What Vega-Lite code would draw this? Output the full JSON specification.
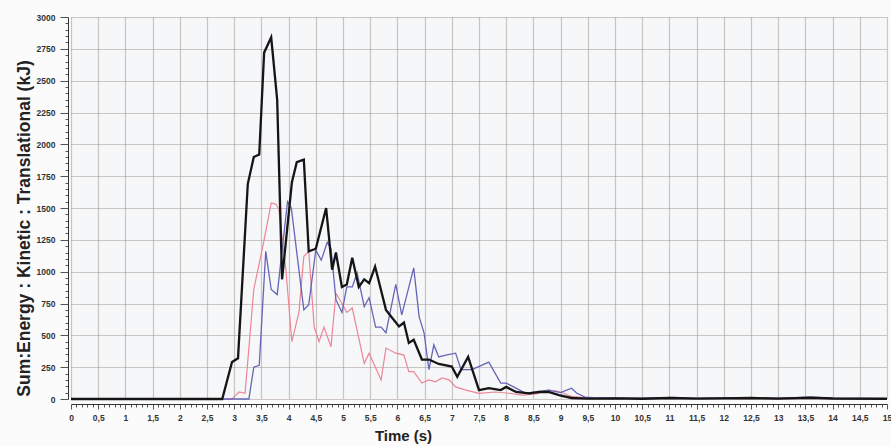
{
  "$schema": "https://vega.github.io/schema/vega-lite/v6.json",
  "autosize": "none",
  "width": 816,
  "height": 382,
  "padding": {"left": 71, "top": 17, "right": 4, "bottom": 47},
  "background": "#fbfbfc",
  "config": {
    "view": {"stroke": null, "fill": "#f6f7f9"},
    "axis": {
      "labelFont": "Liberation Sans",
      "labelFontWeight": "bold",
      "labelFontSize": 8.5,
      "labelColor": "#333333",
      "titleFont": "Liberation Sans",
      "titleFontWeight": "bold",
      "titleFontSize": 15,
      "titleColor": "#222222",
      "domainColor": "#333333",
      "tickColor": "#555555",
      "gridColor": "#9e918c",
      "gridDash": [1, 1],
      "gridWidth": 1.2
    }
  },
  "datasets": {
    "energy": [
      {"t": 0, "v": 0, "s": "black"}, {"t": 2.78, "v": 0, "s": "black"}, {"t": 2.96, "v": 290, "s": "black"}, {"t": 3.07, "v": 320, "s": "black"},
      {"t": 3.25, "v": 1690, "s": "black"}, {"t": 3.36, "v": 1900, "s": "black"}, {"t": 3.46, "v": 1920, "s": "black"}, {"t": 3.55, "v": 2720, "s": "black"},
      {"t": 3.68, "v": 2840, "s": "black"}, {"t": 3.79, "v": 2350, "s": "black"}, {"t": 3.88, "v": 940, "s": "black"}, {"t": 4.06, "v": 1700, "s": "black"},
      {"t": 4.15, "v": 1860, "s": "black"}, {"t": 4.28, "v": 1880, "s": "black"}, {"t": 4.37, "v": 1160, "s": "black"}, {"t": 4.5, "v": 1180, "s": "black"},
      {"t": 4.69, "v": 1500, "s": "black"}, {"t": 4.8, "v": 1015, "s": "black"}, {"t": 4.87, "v": 1150, "s": "black"}, {"t": 4.98, "v": 880, "s": "black"},
      {"t": 5.07, "v": 900, "s": "black"}, {"t": 5.17, "v": 1110, "s": "black"}, {"t": 5.29, "v": 880, "s": "black"}, {"t": 5.39, "v": 940, "s": "black"},
      {"t": 5.48, "v": 910, "s": "black"}, {"t": 5.59, "v": 1040, "s": "black"}, {"t": 5.79, "v": 700, "s": "black"}, {"t": 5.88, "v": 650, "s": "black"},
      {"t": 6.03, "v": 570, "s": "black"}, {"t": 6.12, "v": 600, "s": "black"}, {"t": 6.21, "v": 440, "s": "black"}, {"t": 6.3, "v": 465, "s": "black"},
      {"t": 6.45, "v": 310, "s": "black"}, {"t": 6.58, "v": 310, "s": "black"}, {"t": 6.76, "v": 275, "s": "black"}, {"t": 7.0, "v": 255, "s": "black"},
      {"t": 7.1, "v": 175, "s": "black"}, {"t": 7.3, "v": 330, "s": "black"}, {"t": 7.5, "v": 70, "s": "black"}, {"t": 7.68, "v": 85, "s": "black"},
      {"t": 7.9, "v": 70, "s": "black"}, {"t": 8.0, "v": 95, "s": "black"}, {"t": 8.18, "v": 55, "s": "black"}, {"t": 8.42, "v": 45, "s": "black"},
      {"t": 8.6, "v": 55, "s": "black"}, {"t": 8.78, "v": 55, "s": "black"}, {"t": 8.97, "v": 30, "s": "black"}, {"t": 9.2, "v": 8, "s": "black"},
      {"t": 9.5, "v": 3, "s": "black"}, {"t": 10, "v": 5, "s": "black"}, {"t": 10.5, "v": 2, "s": "black"}, {"t": 11, "v": 8, "s": "black"},
      {"t": 11.5, "v": 3, "s": "black"}, {"t": 12, "v": 5, "s": "black"}, {"t": 12.5, "v": 8, "s": "black"}, {"t": 13, "v": 3, "s": "black"},
      {"t": 13.6, "v": 10, "s": "black"}, {"t": 14, "v": 4, "s": "black"}, {"t": 15, "v": 2, "s": "black"},

      {"t": 0, "v": 0, "s": "blue"}, {"t": 3.27, "v": 0, "s": "blue"}, {"t": 3.36, "v": 250, "s": "blue"}, {"t": 3.46, "v": 265, "s": "blue"},
      {"t": 3.58, "v": 1160, "s": "blue"}, {"t": 3.68, "v": 860, "s": "blue"}, {"t": 3.79, "v": 820, "s": "blue"}, {"t": 3.98, "v": 1550, "s": "blue"},
      {"t": 4.05, "v": 1500, "s": "blue"}, {"t": 4.28, "v": 700, "s": "blue"}, {"t": 4.37, "v": 740, "s": "blue"}, {"t": 4.5, "v": 1170, "s": "blue"},
      {"t": 4.6, "v": 1090, "s": "blue"}, {"t": 4.71, "v": 1230, "s": "blue"}, {"t": 4.78, "v": 1180, "s": "blue"}, {"t": 4.87, "v": 780, "s": "blue"},
      {"t": 4.98, "v": 680, "s": "blue"}, {"t": 5.07, "v": 880, "s": "blue"}, {"t": 5.17, "v": 880, "s": "blue"}, {"t": 5.26, "v": 990, "s": "blue"},
      {"t": 5.39, "v": 725, "s": "blue"}, {"t": 5.48, "v": 795, "s": "blue"}, {"t": 5.6, "v": 565, "s": "blue"}, {"t": 5.7, "v": 565, "s": "blue"},
      {"t": 5.79, "v": 520, "s": "blue"}, {"t": 5.97, "v": 900, "s": "blue"}, {"t": 6.08, "v": 660, "s": "blue"}, {"t": 6.3, "v": 1030, "s": "blue"},
      {"t": 6.4, "v": 645, "s": "blue"}, {"t": 6.49, "v": 520, "s": "blue"}, {"t": 6.58, "v": 230, "s": "blue"}, {"t": 6.67, "v": 425, "s": "blue"},
      {"t": 6.76, "v": 330, "s": "blue"}, {"t": 6.89, "v": 345, "s": "blue"}, {"t": 7.07, "v": 360, "s": "blue"}, {"t": 7.17, "v": 230, "s": "blue"},
      {"t": 7.37, "v": 230, "s": "blue"}, {"t": 7.68, "v": 290, "s": "blue"}, {"t": 7.9, "v": 125, "s": "blue"}, {"t": 8.0, "v": 125, "s": "blue"},
      {"t": 8.18, "v": 85, "s": "blue"}, {"t": 8.36, "v": 45, "s": "blue"}, {"t": 8.55, "v": 55, "s": "blue"}, {"t": 8.78, "v": 70, "s": "blue"},
      {"t": 9.0, "v": 50, "s": "blue"}, {"t": 9.2, "v": 85, "s": "blue"}, {"t": 9.3, "v": 45, "s": "blue"}, {"t": 9.45, "v": 15, "s": "blue"},
      {"t": 9.6, "v": 10, "s": "blue"}, {"t": 10, "v": 8, "s": "blue"}, {"t": 10.5, "v": 5, "s": "blue"}, {"t": 11.1, "v": 12, "s": "blue"},
      {"t": 11.5, "v": 5, "s": "blue"}, {"t": 12.1, "v": 10, "s": "blue"}, {"t": 12.5, "v": 6, "s": "blue"}, {"t": 13.0, "v": 4, "s": "blue"},
      {"t": 13.6, "v": 15, "s": "blue"}, {"t": 14.0, "v": 6, "s": "blue"}, {"t": 14.5, "v": 4, "s": "blue"}, {"t": 15, "v": 3, "s": "blue"},

      {"t": 0, "v": 0, "s": "red"}, {"t": 2.96, "v": 0, "s": "red"}, {"t": 3.03, "v": 30, "s": "red"}, {"t": 3.09, "v": 55, "s": "red"},
      {"t": 3.2, "v": 45, "s": "red"}, {"t": 3.36, "v": 860, "s": "red"}, {"t": 3.55, "v": 1250, "s": "red"}, {"t": 3.68, "v": 1540, "s": "red"},
      {"t": 3.77, "v": 1530, "s": "red"}, {"t": 3.82, "v": 1490, "s": "red"}, {"t": 3.95, "v": 1015, "s": "red"}, {"t": 4.06, "v": 450, "s": "red"},
      {"t": 4.19, "v": 680, "s": "red"}, {"t": 4.28, "v": 1120, "s": "red"}, {"t": 4.37, "v": 1160, "s": "red"}, {"t": 4.47, "v": 565, "s": "red"},
      {"t": 4.56, "v": 450, "s": "red"}, {"t": 4.65, "v": 565, "s": "red"}, {"t": 4.78, "v": 410, "s": "red"}, {"t": 4.87, "v": 830, "s": "red"},
      {"t": 4.98, "v": 750, "s": "red"}, {"t": 5.07, "v": 680, "s": "red"}, {"t": 5.17, "v": 715, "s": "red"}, {"t": 5.39, "v": 280, "s": "red"},
      {"t": 5.48, "v": 360, "s": "red"}, {"t": 5.7, "v": 150, "s": "red"}, {"t": 5.79, "v": 400, "s": "red"}, {"t": 5.97, "v": 360, "s": "red"},
      {"t": 6.12, "v": 345, "s": "red"}, {"t": 6.21, "v": 215, "s": "red"}, {"t": 6.3, "v": 215, "s": "red"}, {"t": 6.45, "v": 125, "s": "red"},
      {"t": 6.58, "v": 150, "s": "red"}, {"t": 6.7, "v": 135, "s": "red"}, {"t": 6.82, "v": 165, "s": "red"}, {"t": 6.95, "v": 150, "s": "red"},
      {"t": 7.07, "v": 95, "s": "red"}, {"t": 7.26, "v": 70, "s": "red"}, {"t": 7.5, "v": 45, "s": "red"}, {"t": 7.8, "v": 55, "s": "red"},
      {"t": 8.05, "v": 45, "s": "red"}, {"t": 8.3, "v": 30, "s": "red"}, {"t": 8.55, "v": 40, "s": "red"}, {"t": 8.78, "v": 70, "s": "red"},
      {"t": 8.95, "v": 60, "s": "red"}, {"t": 9.06, "v": 45, "s": "red"}, {"t": 9.2, "v": 20, "s": "red"}, {"t": 9.5, "v": 8, "s": "red"},
      {"t": 10, "v": 5, "s": "red"}, {"t": 11, "v": 4, "s": "red"}, {"t": 12, "v": 8, "s": "red"}, {"t": 12.3, "v": 3, "s": "red"},
      {"t": 13.5, "v": 12, "s": "red"}, {"t": 14, "v": 3, "s": "red"}, {"t": 15, "v": 2, "s": "red"}
    ]
  },
  "data": {"name": "energy"},
  "encoding": {
    "x": {
      "field": "t", "type": "quantitative",
      "scale": {"domain": [0, 15], "nice": false, "zero": false},
      "axis": {
        "title": "Time (s)",
        "tickCount": 150,
        "format": ".1~f",
        "labelExpr": "abs(datum.value*2-round(datum.value*2))<0.01 ? replace(datum.label,'.',',') : ''",
        "labelOverlap": false,
        "labelFlush": false,
        "labelBound": false,
        "labelPadding": 4,
        "offset": 5,
        "gridOpacity": {"condition": {"test": "abs(datum.value*2-round(datum.value*2))<0.01", "value": 1}, "value": 0},
        "tickSize": {"condition": {"test": "abs(datum.value*2-round(datum.value*2))<0.01", "value": 5}, "value": 3},
        "titleX": 332,
        "titleY": 24,
        "titleBaseline": "top"
      }
    },
    "y": {
      "field": "v", "type": "quantitative",
      "scale": {"domain": [0, 3000], "nice": false},
      "axis": {
        "title": "Sum:Energy : Kinetic : Translational (kJ)",
        "titleFontSize": 17.5,
        "tickCount": 60,
        "format": "d",
        "labelExpr": "datum.value % 250 == 0 ? datum.label : ''",
        "labelOverlap": false,
        "labelFlush": false,
        "labelBound": false,
        "labelPadding": 5,
        "offset": 3,
        "gridOpacity": {"condition": {"test": "datum.value % 250 == 0", "value": 1}, "value": 0},
        "tickSize": {"condition": {"test": "datum.value % 250 == 0", "value": 8}, "value": 3},
        "titlePadding": 3,
        "titleY": 211
      }
    }
  },
  "layer": [
    {
      "transform": [{"filter": "datum.s == 'red'"}],
      "mark": {"type": "line", "color": "#ee8596", "strokeWidth": 1.2}
    },
    {
      "transform": [{"filter": "datum.s == 'blue'"}],
      "mark": {"type": "line", "color": "#6565b8", "strokeWidth": 1.3}
    },
    {
      "transform": [{"filter": "datum.s == 'black'"}],
      "mark": {"type": "line", "color": "#151515", "strokeWidth": 2.3}
    }
  ]
}
